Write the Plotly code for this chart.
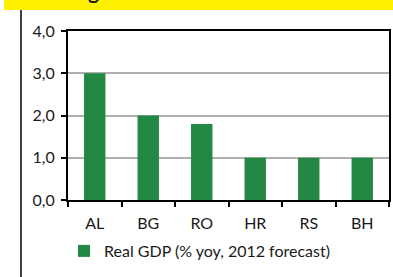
import plotly.graph_objects as go

categories = ["AL", "BG", "RO", "HR", "RS", "BH"]
gdp_values = [3.0, 2.0, 1.8, 1.0, 1.0, 1.0]
series_name = "Real GDP (% yoy, 2012 forecast)"
y_ticks = [0, 1, 2, 3, 4]
y_tick_labels = ["0,0", "1,0", "2,0", "3,0", "4,0"]

W, H = 393, 277
L, R, T, B = 68, 4, 31, 77
pw, ph = W - L - R, H - T - B

def px(x):
    return (x - L) / pw

def py(y):
    return (H - B - y) / ph

font = "Lato"

fig = go.Figure()
fig.add_trace(go.Bar(
    x=categories, y=gdp_values, name=series_name,
    marker=dict(color="#228844", line=dict(width=0)),
    width=0.4,
))

fig.update_layout(
    width=W, height=H,
    margin=dict(l=L, r=R, t=T, b=B, autoexpand=False),
    paper_bgcolor="white", plot_bgcolor="white",
    font=dict(family=font, size=15, color="#1a1a1a"),
    showlegend=True,
    legend=dict(orientation="h", x=px(64), xanchor="left", y=py(251), yanchor="middle",
                font=dict(size=16, family=font), itemwidth=30, bgcolor="rgba(0,0,0,0)"),
    xaxis=dict(
        showline=True, linecolor="black", linewidth=2, mirror=True,
        ticks="outside", tickson="boundaries", ticklen=5, tickcolor="black", tickwidth=1.5,
        showgrid=False, tickfont=dict(size=16), ticklabelstandoff=8,
    ),
    yaxis=dict(
        range=[0, 4], tickvals=y_ticks, ticktext=y_tick_labels,
        showline=True, linecolor="black", linewidth=2, mirror=True,
        ticks="outside", ticklen=5, tickcolor="black", tickwidth=1.5,
        showgrid=True, gridcolor="#AFAFAF", gridwidth=1.5,
        tickfont=dict(size=16), zeroline=False, ticklabelstandoff=3,
    ),
    shapes=[
        dict(type="rect", xref="paper", yref="paper",
             x0=px(4), x1=px(393), y0=py(10), y1=py(0),
             fillcolor="#FFF000", line=dict(width=0), layer="below"),
        dict(type="line", xref="paper", yref="paper",
             x0=px(21), x1=px(21), y0=py(10), y1=py(277),
             line=dict(color="black", width=1.5)),
    ],
    annotations=[
        dict(text="<b>g</b>", xref="paper", yref="paper", x=px(93), y=py(-9),
             xanchor="center", yanchor="middle", showarrow=False,
             font=dict(size=21, color="#1a1a1a", family=font)),
    ],
)

fig.write_html("out.html", config={"displayModeBar": False},
               post_script="document.body.style.margin='0';")
